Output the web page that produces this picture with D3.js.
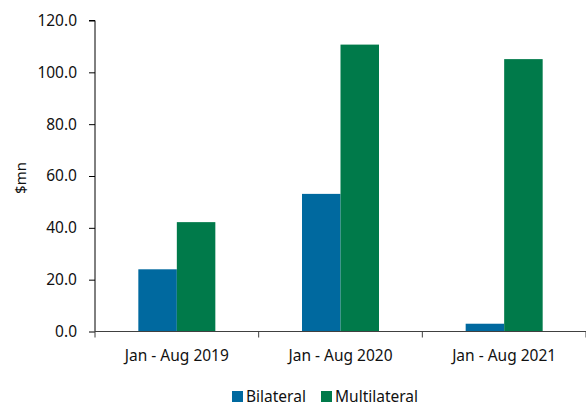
<!DOCTYPE html>
<html>
<head>
<meta charset="utf-8">
<script src="https://cdn.jsdelivr.net/npm/d3@7"></script>
<style>
  body { margin: 0; background: #fff; }
  svg { display: block; font-family: "Noto Sans", sans-serif; }
</style>
</head>
<body>
<svg></svg>
<script>
// chart data
const categories = ["Jan - Aug 2019", "Jan - Aug 2020", "Jan - Aug 2021"];
const seriesNames = ["Bilateral", "Multilateral"];
const bilateral = [24.0, 53.1, 3.0];
const multilateral = [42.2, 110.7, 105.1];
const yTicks = [0, 20, 40, 60, 80, 100, 120];
const colors = ["#00699F", "#007A4A"];

const W = 586, H = 408;
const M = {top: 20.5, right: 0, bottom: 76.5, left: 95};

const svg = d3.select('svg')
  .attr('width', W)
  .attr('height', H);

const x = d3.scaleBand()
  .domain(categories)
  .range([M.left, W - M.right]);

const inner = d3.scaleBand()
  .domain(seriesNames)
  .range([0, 77])
  .padding(0);

const y = d3.scaleLinear()
  .domain([0, 120])
  .range([H - M.bottom, M.top]);

const rows = categories.map((c, i) => ({cat: c, vals: [bilateral[i], multilateral[i]]}));

// bars
const groups = svg.append('g')
  .selectAll('g')
  .data(rows)
  .enter()
  .append('g')
  .attr('transform', d => `translate(${x(d.cat) + x.bandwidth() / 2 - 38.5},0)`);

groups.selectAll('rect')
  .data(d => d.vals.map((v, j) => ({name: seriesNames[j], v: v, j: j})))
  .enter()
  .append('rect')
  .attr('x', d => inner(d.name))
  .attr('width', inner.bandwidth())
  .attr('y', d => y(d.v))
  .attr('height', d => y(0) - y(d.v))
  .attr('fill', d => colors[d.j]);

// y axis
const yAxis = svg.append('g')
  .attr('transform', `translate(${M.left},0)`)
  .call(d3.axisLeft(y).tickValues(yTicks).tickFormat(d3.format('.1f')).tickSize(6).tickPadding(12));
yAxis.select('.domain').attr('stroke', '#000').attr('d', `M-6,${y(120)}H0V${y(0)}`);
yAxis.selectAll('.tick line').attr('stroke', '#000');
yAxis.selectAll('text').attr('font-size', 15.5).attr('fill', '#111').style('font-family', '"Noto Sans", sans-serif');

// x axis
const xTickPos = [M.left].concat(categories.map(c => x(c) + x.bandwidth()));
const xAxis = svg.append('g')
  .attr('transform', `translate(0,${y(0)})`);
xAxis.append('line')
  .attr('x1', M.left).attr('x2', W)
  .attr('stroke', '#404040');
xAxis.selectAll('.xt')
  .data(xTickPos)
  .enter()
  .append('line')
  .attr('x1', d => d).attr('x2', d => d)
  .attr('y1', 0).attr('y2', 6)
  .attr('stroke', '#404040');
xAxis.selectAll('.xl')
  .data(categories)
  .enter()
  .append('text')
  .attr('x', d => x(d) + x.bandwidth() / 2)
  .attr('y', 29)
  .attr('text-anchor', 'middle')
  .attr('font-size', 15.5)
  .attr('fill', '#111')
  .text(d => d);

// y title
svg.append('text')
  .attr('transform', 'translate(26,178) rotate(-90)')
  .attr('text-anchor', 'middle')
  .attr('font-size', 15)
  .attr('fill', '#111')
  .text('$mn');

// legend
const legX = [232, 321];
const legend = svg.append('g');
legend.selectAll('rect')
  .data(seriesNames)
  .enter()
  .append('rect')
  .attr('x', (d, i) => legX[i])
  .attr('y', 391)
  .attr('width', 11)
  .attr('height', 11)
  .attr('fill', (d, i) => colors[i]);
legend.selectAll('text')
  .data(seriesNames)
  .enter()
  .append('text')
  .attr('x', (d, i) => legX[i] + 14)
  .attr('y', 402)
  .attr('font-size', 15.5)
  .attr('fill', '#111')
  .text(d => d);
</script>
</body>
</html>
